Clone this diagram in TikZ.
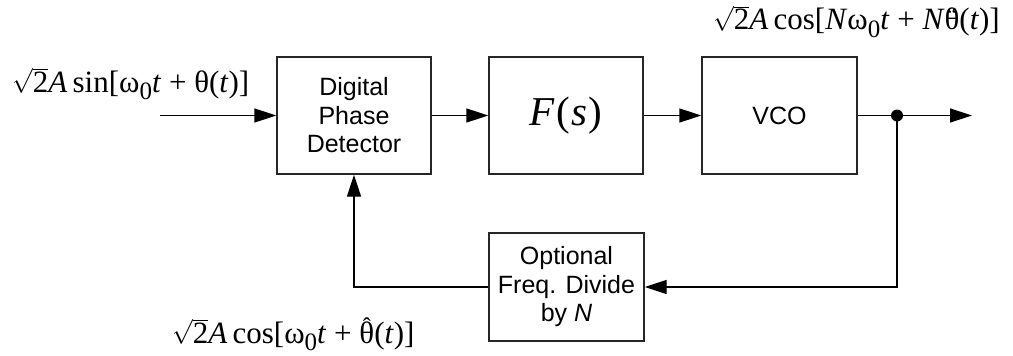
\documentclass[tikz,border=0pt]{standalone}
\usepackage{fontspec}
\setmainfont{Liberation Serif}
\newfontfamily\boxfont{Liberation Sans}
\usetikzlibrary{arrows.meta,positioning}

% lowered subscript zero, as in the signal labels
\newcommand{\lowsub}[1]{\raisebox{-0.5ex}{\fontsize{25}{25}\selectfont #1}}
% theta with a mark set well above it
\newcommand{\markedth}[1]{\leavevmode\ooalign{θ\cr\hidewidth\raisebox{0.62ex}{#1}\hidewidth\cr}}
% square root of two with a low radical
\newcommand{\rtwo}{$\sqrt{\mbox{\smash{2}\rule{0pt}{0.64em}}}$}

\tikzset{
  blk/.style={draw=black!85, line width=1.4pt, rectangle, align=center,
    font=\boxfont\fontsize{25}{28.5}\selectfont, inner sep=0pt},
  sig/.style={line width=1.4pt, -{Triangle[length=22pt,width=14pt]}},
  lbl/.style={anchor=base west, inner sep=0pt, font=\rmfamily\fontsize{31}{31}\selectfont}
}

\begin{document}
\begin{tikzpicture}[x=1pt,y=-1pt]
\useasboundingbox (0,0) rectangle (1013,356);

% blocks
\node[blk, minimum width=154pt, minimum height=117pt] (pd) at (354,115.5)
  {Digital\\Phase\\Detector};
\node[blk, minimum width=154pt, minimum height=117pt] (fs) at (566,115.5)
  {\rmfamily\itshape\fontsize{41}{41}\selectfont F\kern2pt\upshape(\kern1pt\itshape s\kern1pt\upshape)};
\node[blk, minimum width=155pt, minimum height=117pt] (vco) at (779.5,115.5)
  {VCO};
\node[blk, minimum width=155pt, minimum height=108pt] (div) at (566.5,287)
  {Optional\\Freq. Divide\\by \textit{N}};

% terminals and branch point
\coordinate (in) at (160,115.5);
\coordinate (out) at (972,115.5);
\coordinate (br) at (897,115.5);
\fill (br) circle (6pt);

% forward path
\draw[sig] (in) -- (pd.west);
\draw[sig] (pd.east) -- (fs.west);
\draw[sig] (fs.east) -- (vco.west);
\draw[sig] (vco.east) -- (out);

% feedback path
\draw[sig] (br) |- (div.east);
\draw[sig] (div.west) -| (pd.south);

% signal labels
\node[lbl] (lin) at (12,92)
  {\rtwo\textit{A}\,sin[ω\lowsub{0}\textit{t} + θ(\textit{t})]};
\node[lbl] (lout) at (713,30)
  {\rtwo\textit{A}\,cos[\textit{N}ω\lowsub{0}\textit{t} + \textit{N}\markedth{\fontsize{20}{20}\selectfont\char"60\char"60}(\textit{t})]};
\node[lbl] (lfb) at (172,343)
  {\rtwo\textit{A}\,cos[ω\lowsub{0}\textit{t} + \markedth{\fontsize{24}{24}\selectfont ˆ}(\textit{t})]};
\end{tikzpicture}
\end{document}
